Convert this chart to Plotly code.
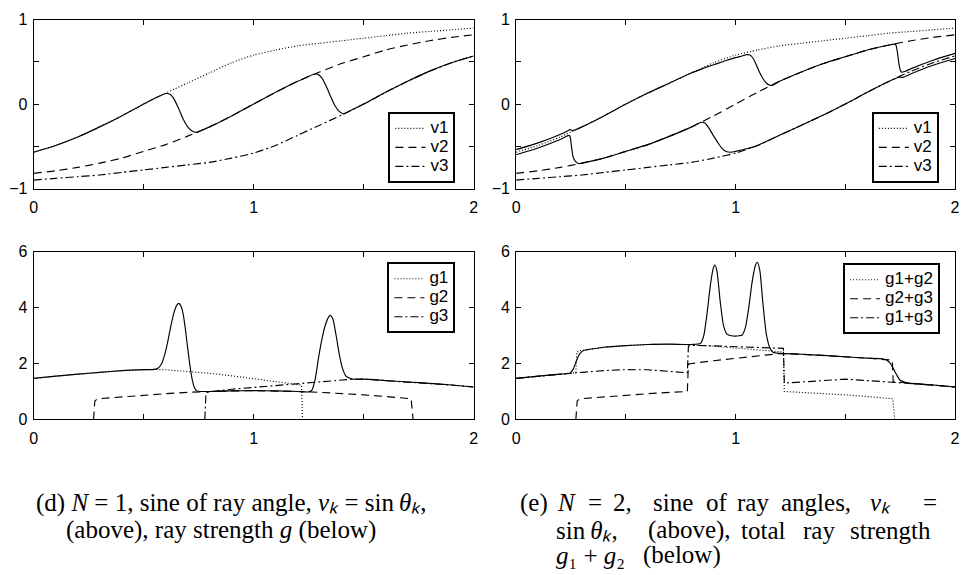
import plotly.graph_objects as go

# ---------------- data ----------------
X_V = [0.0, 0.1, 0.2, 0.3, 0.4, 0.5, 0.6, 0.7, 0.8, 0.9, 1.0,
       1.1, 1.2, 1.3, 1.4, 1.5, 1.6, 1.7, 1.8, 1.9, 2.0]
V1 = [-0.57, -0.49, -0.39, -0.27, -0.14, 0.0, 0.13, 0.25, 0.37, 0.49, 0.58,
      0.64, 0.69, 0.72, 0.75, 0.78, 0.81, 0.84, 0.86, 0.88, 0.90]
V2 = [-0.82, -0.79, -0.75, -0.70, -0.64, -0.56, -0.48, -0.38, -0.27, -0.14, 0.0,
      0.14, 0.27, 0.38, 0.48, 0.56, 0.64, 0.70, 0.75, 0.79, 0.82]
V3 = [-0.90, -0.88, -0.86, -0.84, -0.81, -0.78, -0.75, -0.72, -0.69, -0.64, -0.58,
      -0.49, -0.37, -0.25, -0.13, 0.0, 0.14, 0.27, 0.39, 0.49, 0.57]

# (d) N = 1: sine of ray angle of the single ray
RAY_D_X = [0, 0.1, 0.2, 0.3, 0.4, 0.5, 0.56, 0.58, 0.60, 0.62, 0.64, 0.66, 0.68, 0.70,
           0.72, 0.74, 0.76, 0.8, 0.9, 1.0, 1.1, 1.2, 1.24, 1.27, 1.29, 1.31, 1.33,
           1.35, 1.37, 1.39, 1.41, 1.43, 1.5, 1.6, 1.7, 1.8, 1.9, 2.0]
RAY_D_Y = [-0.57, -0.49, -0.39, -0.27, -0.14, 0.0, 0.08, 0.105, 0.125, 0.115, 0.05,
           -0.06, -0.18, -0.27, -0.32, -0.335, -0.315, -0.27, -0.14, 0.0, 0.14, 0.27,
           0.315, 0.35, 0.355, 0.31, 0.21, 0.09, -0.02, -0.09, -0.115, -0.09, 0.0,
           0.14, 0.27, 0.39, 0.49, 0.57]

# (e) N = 2: the two rays
RAY_A_X = [0, 0.1, 0.2, 0.24, 0.245, 0.255, 0.27, 0.3, 0.4, 0.5, 0.6, 0.7, 0.8, 0.86,
           0.88, 0.9, 0.95, 1.0, 1.03, 1.05, 1.065, 1.08, 1.095, 1.11, 1.125, 1.14,
           1.155, 1.17, 1.2, 1.3, 1.4, 1.5, 1.6, 1.7, 1.72, 1.73, 1.738, 1.746, 1.755,
           1.77, 1.8, 1.9, 2.0]
RAY_A_Y = [-0.54, -0.46, -0.36, -0.31, -0.30, -0.315, -0.305, -0.27, -0.14, 0.0, 0.13,
           0.25, 0.37, 0.43, 0.45, 0.465, 0.51, 0.55, 0.57, 0.585, 0.58, 0.54, 0.46,
           0.37, 0.30, 0.25, 0.225, 0.225, 0.27, 0.38, 0.48, 0.56, 0.64, 0.70, 0.71,
           0.70, 0.60, 0.45, 0.38, 0.385, 0.42, 0.52, 0.60]
RAY_B_X = [0, 0.1, 0.2, 0.24, 0.245, 0.25, 0.255, 0.26, 0.27, 0.28, 0.29, 0.3, 0.4,
           0.5, 0.6, 0.7, 0.8, 0.83, 0.845, 0.86, 0.88, 0.9, 0.92, 0.94, 0.96, 0.98,
           1.0, 1.05, 1.1, 1.13, 1.2, 1.3, 1.4, 1.5, 1.6, 1.7, 1.74, 1.75, 1.76, 1.8,
           1.9, 2.0]
RAY_B_Y = [-0.60, -0.52, -0.42, -0.37, -0.38, -0.46, -0.56, -0.63, -0.68, -0.70,
           -0.705, -0.70, -0.64, -0.56, -0.48, -0.38, -0.27, -0.23, -0.215, -0.225,
           -0.29, -0.38, -0.46, -0.53, -0.565, -0.57, -0.56, -0.53, -0.49, -0.455,
           -0.37, -0.25, -0.13, 0.0, 0.14, 0.27, 0.315, 0.32, 0.315, 0.36, 0.46, 0.54]

# (d) ray strengths
G1_X = [0, 0.1, 0.2, 0.3, 0.4, 0.5, 0.55, 0.6, 0.7, 0.8, 0.9, 1.0, 1.1, 1.2, 1.218, 1.222]
G1_Y = [1.47, 1.55, 1.62, 1.685, 1.745, 1.78, 1.79, 1.775, 1.72, 1.65, 1.56, 1.46,
        1.36, 1.25, 1.23, 0.0]
G2_X = [0.272, 0.278, 0.29, 0.4, 0.5, 0.6, 0.7, 0.8, 0.9, 1.0, 1.1, 1.2, 1.3, 1.4,
        1.5, 1.6, 1.7, 1.716, 1.725]
G2_Y = [0.0, 0.66, 0.74, 0.81, 0.87, 0.92, 0.97, 1.00, 1.02, 1.03, 1.02, 1.00, 0.97,
        0.93, 0.88, 0.82, 0.76, 0.74, 0.0]
G3_X = [0.778, 0.783, 0.79, 0.8, 0.9, 1.0, 1.1, 1.2, 1.3, 1.4, 1.45, 1.5, 1.6, 1.7,
        1.8, 1.9, 2.0]
G3_Y = [0.0, 0.90, 0.97, 0.99, 1.08, 1.15, 1.21, 1.27, 1.34, 1.41, 1.44, 1.44, 1.39,
        1.34, 1.29, 1.23, 1.16]
GD_X = [0, 0.1, 0.2, 0.3, 0.4, 0.5, 0.55, 0.565, 0.58, 0.595, 0.61, 0.625, 0.64, 0.65,
        0.66, 0.67, 0.68, 0.69, 0.70, 0.71, 0.72, 0.73, 0.74, 0.76, 0.8, 0.9, 1.0, 1.1,
        1.2, 1.25, 1.265, 1.28, 1.295, 1.31, 1.325, 1.34, 1.348, 1.36, 1.375, 1.39,
        1.405, 1.42, 1.435, 1.45, 1.5, 1.6, 1.7, 1.8, 1.9, 2.0]
GD_Y = [1.47, 1.55, 1.62, 1.685, 1.745, 1.78, 1.79, 1.83, 1.97, 2.3, 2.8, 3.4, 3.88,
        4.08, 4.15, 4.05, 3.75, 3.2, 2.55, 1.95, 1.45, 1.15, 1.03, 1.0, 1.0, 1.02, 1.03,
        1.02, 1.00, 0.985, 1.05, 1.45, 2.2, 2.85, 3.35, 3.65, 3.72, 3.6, 3.0, 2.3, 1.8,
        1.55, 1.48, 1.44, 1.44, 1.39, 1.34, 1.29, 1.23, 1.16]

# (e) pairwise strengths and total
S12_X = [0, 0.1, 0.2, 0.25, 0.272, 0.276, 0.29, 0.33, 0.4, 0.5, 0.6, 0.7, 0.8, 0.9,
         1.0, 1.1, 1.2, 1.218, 1.222, 1.3, 1.4, 1.5, 1.6, 1.7, 1.716, 1.725]
S12_Y = [1.47, 1.55, 1.62, 1.66, 1.675, 2.40, 2.46, 2.50, 2.58, 2.64, 2.68, 2.69, 2.67,
         2.62, 2.56, 2.49, 2.42, 2.41, 1.00, 0.97, 0.93, 0.88, 0.82, 0.76, 0.74, 0.0]
S23_X = [0.272, 0.278, 0.29, 0.4, 0.5, 0.6, 0.7, 0.775, 0.78, 0.785, 0.8, 0.9, 1.0,
         1.1, 1.15, 1.2, 1.3, 1.4, 1.5, 1.6, 1.68, 1.714, 1.718, 1.8, 1.9, 2.0]
S23_Y = [0.0, 0.66, 0.74, 0.81, 0.87, 0.92, 0.97, 0.99, 1.00, 1.98, 2.00, 2.10, 2.19,
         2.28, 2.33, 2.355, 2.33, 2.29, 2.24, 2.19, 2.14, 2.12, 1.35, 1.29, 1.23, 1.16]
S13_X = [0, 0.1, 0.2, 0.3, 0.4, 0.5, 0.6, 0.7, 0.775, 0.78, 0.785, 0.8, 0.9, 1.0, 1.1,
         1.2, 1.218, 1.222, 1.3, 1.4, 1.5, 1.6, 1.7, 1.8, 1.9, 2.0]
S13_Y = [1.47, 1.55, 1.62, 1.685, 1.745, 1.78, 1.775, 1.72, 1.67, 1.67, 2.63, 2.65,
         2.63, 2.61, 2.58, 2.55, 2.54, 1.30, 1.34, 1.41, 1.44, 1.39, 1.34, 1.29, 1.23,
         1.16]
GE_X = [0, 0.1, 0.2, 0.246, 0.26, 0.275, 0.29, 0.31, 0.33, 0.4, 0.5, 0.6, 0.7, 0.8,
        0.84, 0.855, 0.87, 0.885, 0.898, 0.906, 0.915, 0.93, 0.945, 0.96, 0.98, 1.0,
        1.015, 1.03, 1.045, 1.06, 1.075, 1.09, 1.099, 1.11, 1.125, 1.14, 1.155, 1.17,
        1.19, 1.2, 1.3, 1.4, 1.5, 1.6, 1.67, 1.69, 1.705, 1.72, 1.735, 1.75, 1.765,
        1.8, 1.9, 2.0]
GE_Y = [1.47, 1.55, 1.62, 1.66, 1.80, 2.10, 2.35, 2.47, 2.50, 2.58, 2.64, 2.68, 2.69,
        2.68, 2.72, 3.0, 3.8, 4.8, 5.4, 5.52, 5.3, 4.2, 3.35, 3.05, 2.99, 2.98, 2.99,
        3.02, 3.3, 4.0, 4.9, 5.5, 5.62, 5.35, 4.1, 3.05, 2.58, 2.40, 2.37, 2.36, 2.33,
        2.29, 2.24, 2.19, 2.17, 2.12, 2.0, 1.8, 1.58, 1.40, 1.35, 1.29, 1.23, 1.16]

X_TICKS = [0, 1, 2]
X_TICKTEXT = ["0", "1", "2"]
X_MINOR = [0.5, 1.5]
YV_TICKS = [-1, 0, 1]
YV_TICKTEXT = ["\u22121", "0", "1"]
YV_MINOR = [-0.5, 0.5]
YG_TICKS = [0, 2, 4, 6]
YG_TICKTEXT = ["0", "2", "4", "6"]

# ---------------- styling ----------------
W, H = 965, 575
BLACK = "#000000"
DOT = "1px,2px"
DASH = "8px,5px"
DASHDOT = "8px,3px,2px,3px"
LW = 1.15

fig = go.Figure()


def add(x, y, ax, dash, name=None, legend=None, shape="linear"):
    fig.add_trace(go.Scatter(
        x=x, y=y, mode="lines", xaxis="x" + ax, yaxis="y" + ax,
        line=dict(color=BLACK, width=LW, dash=dash, shape=shape,
                  smoothing=0.6 if shape == "spline" else None),
        name=(None if name is None else
              '<span style="font-size:17px">' + name + "</span>"),
        showlegend=name is not None, legend=legend,
        hoverinfo="skip"))


# top-left
add(X_V, V1, "", DOT, "v1", "legend", "spline")
add(X_V, V2, "", DASH, "v2", "legend", "spline")
add(X_V, V3, "", DASHDOT, "v3", "legend", "spline")
add(RAY_D_X, RAY_D_Y, "", "solid", shape="spline")
# top-right
add(X_V, V1, "2", DOT, "v1", "legend2", "spline")
add(X_V, V2, "2", DASH, "v2", "legend2", "spline")
add(X_V, V3, "2", DASHDOT, "v3", "legend2", "spline")
add(RAY_A_X, RAY_A_Y, "2", "solid", shape="spline")
add(RAY_B_X, RAY_B_Y, "2", "solid", shape="spline")
# bottom-left
add(G1_X, G1_Y, "3", DOT, "g1", "legend3")
add(G2_X, G2_Y, "3", DASH, "g2", "legend3")
add(G3_X, G3_Y, "3", DASHDOT, "g3", "legend3")
add(GD_X, GD_Y, "3", "solid", shape="spline")
# bottom-right
add(S12_X, S12_Y, "4", DOT, "g1+g2", "legend4")
add(S23_X, S23_Y, "4", DASH, "g2+g3", "legend4")
add(S13_X, S13_Y, "4", DASHDOT, "g1+g3", "legend4")
add(GE_X, GE_Y, "4", "solid", shape="spline")

AX_FONT = dict(family="Liberation Sans, Arial, sans-serif", size=16, color=BLACK)


def common(minor_vals):
    d = dict(tickmode="array", ticks="inside", ticklen=5, tickcolor=BLACK,
             tickwidth=1, showline=True, linecolor=BLACK, linewidth=1,
             mirror="ticks", showgrid=False, zeroline=False, tickfont=AX_FONT,
             fixedrange=True)
    if minor_vals:
        d["minor"] = dict(tickmode="array", tickvals=minor_vals, ticks="inside",
                          ticklen=5, tickcolor=BLACK, tickwidth=1, showgrid=False)
    return d


def xax(domain, anchor):
    d = common(X_MINOR)
    d.update(domain=domain, anchor=anchor, range=[0, 2], tickvals=X_TICKS,
             ticktext=X_TICKTEXT, ticklabelstandoff=4)
    return d


def yax(domain, anchor, rng, tv, tt, mv):
    d = common(mv)
    d.update(domain=domain, anchor=anchor, range=rng, tickvals=tv, ticktext=tt,
             ticklabelstandoff=2)
    return d


XL = [30 / W, 474 / W]
XR = [517 / W, 960 / W]
YT = [1 - 186 / H, 1 - 12 / H]
YB = [1 - 424 / H, 1 - 251 / H]


def leg(xpx, ypx):
    return dict(x=xpx / W, y=1 - ypx / H, xanchor="left", yanchor="top",
                bordercolor=BLACK, borderwidth=2, bgcolor="white",
                font=dict(family="Liberation Sans, Arial, sans-serif", size=12,
                          color=BLACK),
                tracegroupgap=0)


CAP_FONT = dict(family="Liberation Serif, Times New Roman, serif", size=25,
                color=BLACK)
annotations = []


def cap(text, xpx, ypx):
    annotations.append(dict(text=text, x=xpx / W, y=1 - ypx / H, xref="paper",
                            yref="paper", xanchor="left", yanchor="middle",
                            showarrow=False, font=CAP_FONT))


L1, L2, L3 = 510, 538, 564
cap("(d) <i>N</i> = 1, sine of ray angle, <i>v\u2096</i> = sin\u2009<i>θ\u2096</i>,", 30, L1)
cap("(above), ray strength <i>g</i> (below)", 61, L2)

for t, xp in [("(e)", 519), ("<i>N</i>", 556), ("=", 587), ("2,", 613),
              ("sine", 653), ("of", 707), ("ray", 738), ("angles,", 782),
              ("<i>v\u2096</i>", 872), ("=", 926)]:
    cap(t, xp, L1)
for t, xp in [("sin\u2009<i>θ\u2096</i>,", 555), ("(above),", 648),
              ("total", 742), ("ray", 805), ("strength", 852)]:
    cap(t, xp, L2)
for t, xp in [("<i>g</i>\u2081 + <i>g</i>\u2082", 555), ("(below)", 643)]:
    cap(t, xp, L3)

fig.update_layout(
    width=W, height=H, margin=dict(l=0, r=0, t=0, b=0),
    paper_bgcolor="white", plot_bgcolor="white",
    xaxis=xax(XL, "y"), yaxis=yax(YT, "x", [-1, 1], YV_TICKS, YV_TICKTEXT, YV_MINOR),
    xaxis2=xax(XR, "y2"), yaxis2=yax(YT, "x2", [-1, 1], YV_TICKS, YV_TICKTEXT, YV_MINOR),
    xaxis3=xax(XL, "y3"), yaxis3=yax(YB, "x3", [0, 6], YG_TICKS, YG_TICKTEXT, None),
    xaxis4=xax(XR, "y4"), yaxis4=yax(YB, "x4", [0, 6], YG_TICKS, YG_TICKTEXT, None),
    legend=leg(388, 107), legend2=leg(876, 107),
    legend3=leg(387, 262), legend4=leg(847, 263),
    annotations=annotations, showlegend=True,
)

fig.write_html("out.html", config={"displayModeBar": False},
               post_script="document.body.style.margin='0px';"
                           "document.body.style.overflow='hidden';")
